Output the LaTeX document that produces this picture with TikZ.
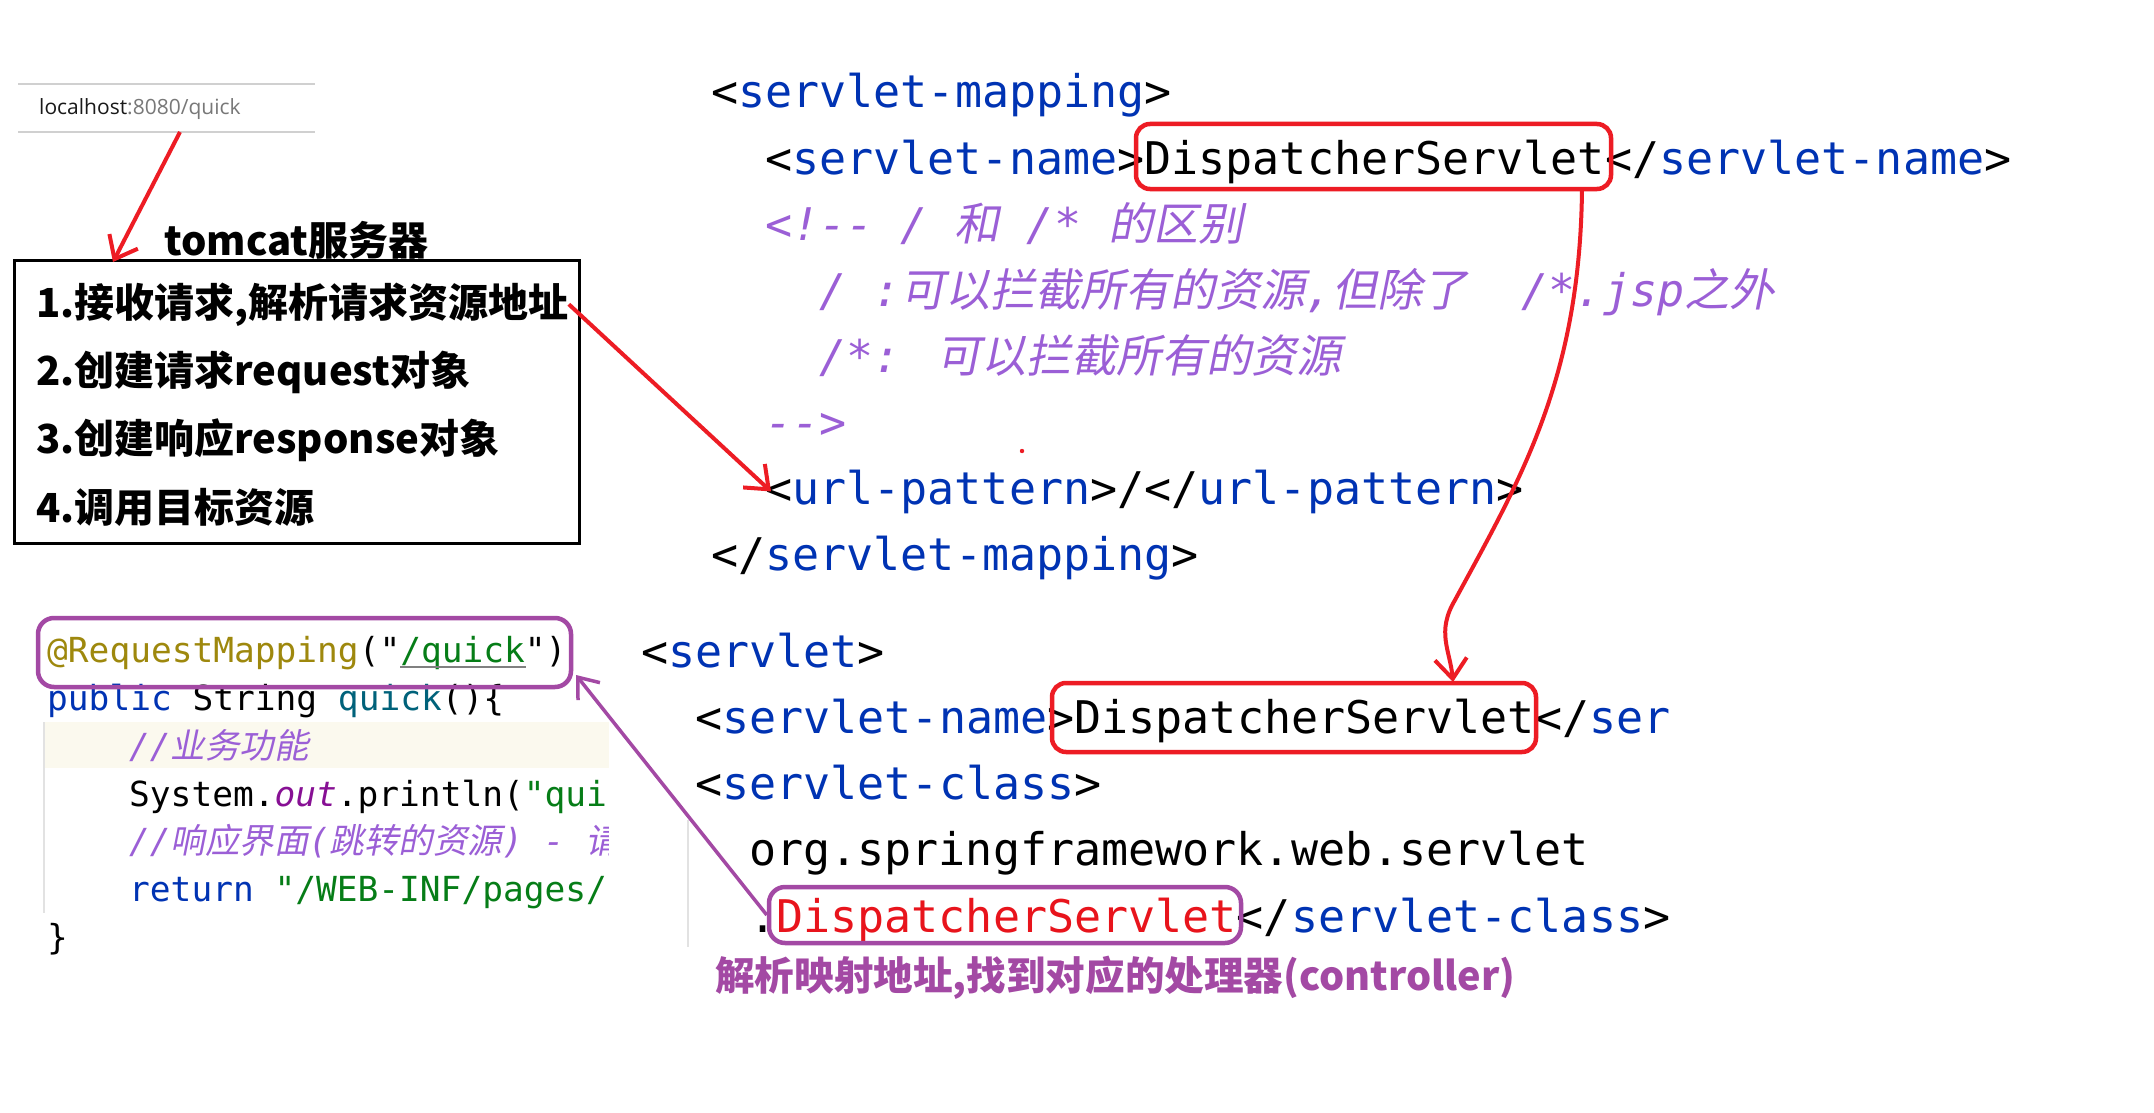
\documentclass[tikz,border=0pt]{standalone}
\usepackage{fontspec}
\usetikzlibrary{arrows.meta}
\newfontfamily\monofnt{DejaVu Sans Mono}
\newfontfamily\cjk{Noto Sans CJK SC}
\newfontfamily\cjkit{Noto Sans CJK SC}[FakeSlant=0.2]
\newfontfamily\uifnt{Open Sans}
\definecolor{tagblue}{HTML}{0033B3}
\definecolor{cmt}{HTML}{9B5FD6}
\definecolor{dsred}{HTML}{E8141C}
\definecolor{paintred}{HTML}{ED1C24}
\definecolor{paintpurple}{HTML}{A349A4}
\definecolor{annot}{HTML}{9E880D}
\definecolor{strg}{HTML}{067D17}
\definecolor{meth}{HTML}{00627A}
\definecolor{fieldc}{HTML}{871094}
\definecolor{band}{HTML}{FBF9EE}
\definecolor{panelline}{HTML}{E2E2E2}
\definecolor{urlline}{HTML}{D0D0D0}
\definecolor{urlgrey}{HTML}{787878}
\newcommand\tg[1]{\textcolor{tagblue}{#1}}
\newcommand\zh[1]{{\cjk #1}}
\newcommand\zhi[1]{{\cjkit #1}}
\begin{document}
\begin{tikzpicture}[x=1pt,y=-1pt,
  xml/.style={anchor=base west, inner sep=0pt, font=\monofnt\fontsize{45}{45}\selectfont},
  cmtline/.style={xml, text=cmt, font=\monofnt\itshape\fontsize{45}{45}\selectfont},
  code/.style={anchor=base west, inner sep=0pt, font=\monofnt\fontsize{34.5}{34.5}\selectfont},
  boxtext/.style={anchor=base west, inner sep=0pt, font=\cjk\bfseries\fontsize{40}{40}\selectfont},
  redbox/.style={draw=paintred, line width=4.5pt, rounded corners=14pt, inner sep=0pt},
  purplebox/.style={draw=paintpurple, line width=4.5pt, rounded corners=16pt, inner sep=0pt},
  redarrow/.style={draw=paintred, line width=4pt, -{Straight Barb[length=20pt,width=32pt,line width=4pt]}},
  purplearrow/.style={draw=paintpurple, line width=3.5pt, -{Straight Barb[length=18pt,width=28pt,line width=3.5pt]}}
]
\useasboundingbox (0,0) rectangle (2154,1113);
\fill[white] (0,0) rectangle (2154,1113);

% URL bar
\draw[urlline, line width=2pt] (18,84) -- (315,84);
\draw[urlline, line width=2pt] (18,132) -- (315,132);
\node[anchor=base west, inner sep=0pt, font=\uifnt\fontsize{21}{21}\selectfont] (url) at (39,115)
  {\textcolor{black!90}{localhost}\textcolor{urlgrey}{:8080/quick}};

% tomcat box
\node[anchor=base west, inner sep=0pt, font=\cjk\bfseries\fontsize{40}{40}\selectfont] (tomcat) at (164,255) {tomcat服务器};
\node[draw=black, line width=3pt, minimum width=565pt, minimum height=283pt, inner sep=0pt] (tbox) at (296.5,401.5) {};
\node[boxtext] (l1) at (36,317) {1.接收请求,解析请求资源地址};
\node[boxtext] (l2) at (36,385) {2.创建请求request对象};
\node[boxtext] (l3) at (36,453) {3.创建响应response对象};
\node[boxtext] (l4) at (36,522) {4.调用目标资源};

% servlet-mapping block
\node[xml] (r1) at (711,108) {<\tg{servlet-mapping}>};
\node[xml] (r2) at (765,174) {<\tg{servlet-name}>DispatcherServlet</\tg{servlet-name}>};
\node[cmtline] (r3) at (765,240) {<!-{}- / \zhi{和} /* \zhi{的区别}};
\node[cmtline] (r4) at (819,306) {/ :\zhi{可以拦截所有的资源},\zhi{但除了}\ \ /*.jsp\zhi{之外}};
\node[cmtline] (r5) at (819,372) {/*: \zhi{可以拦截所有的资源}};
\node[cmtline] (r6) at (765,438) {-{}->};
\node[xml] (urlpat) at (765,504) {<\tg{url-pattern}>/</\tg{url-pattern}>};
\node[xml] (r8) at (711,570) {</\tg{servlet-mapping}>};
\node[redbox, minimum width=475pt, minimum height=65pt] (rb1) at (1373.5,156.5) {};
\fill[paintred] (1022,451) circle (2.2pt);

% servlet block
\draw[panelline, line width=2pt] (688,820) -- (688,947);
\node[xml] (b1) at (641,667) {<\tg{servlet}>};
\node[xml] (b2) at (695,733) {<\tg{servlet-name}>DispatcherServlet</\tg{ser}};
\node[xml] (b3) at (695,799) {<\tg{servlet-class}>};
\node[xml] (b4) at (749,865) {org.springframework.web.servlet};
\node[xml] (b5) at (749,932) {.\textcolor{dsred}{DispatcherServlet}</\tg{servlet-class}>};
\node[redbox, minimum width=484pt, minimum height=69pt] (rb2) at (1294,717.5) {};
\node[purplebox, minimum width=472pt, minimum height=56pt] (pb2) at (1005,915) {};
\node[anchor=base west, inner sep=0pt, text=paintpurple, font=\cjk\bfseries\fontsize{39.6}{39.6}\selectfont] (note) at (715,990) {解析映射地址,找到对应的处理器(controller)};

% Java code
\fill[band] (45,722) rectangle (609,768);
\draw[panelline, line width=2pt] (44,722) -- (44,913);
\begin{scope}
\clip (0,600) rectangle (608,1000);
\node[code] (c1) at (47,662) {\textcolor{annot}{@RequestMapping}("\textcolor{strg}{/quick}")};
\draw[black!50, line width=1.5pt] (400,667) -- (526,667);
\node[code] (c2) at (47,710) {\textcolor{tagblue}{public} String \textcolor{meth}{quick}()\{};
\node[code, text=cmt] (c3) at (129,758) {\itshape //\zhi{业务功能}};
\node[code] (c4) at (129,806) {System.\textcolor{fieldc}{\itshape out}.println(\textcolor{strg}{"qui}};
\node[code, text=cmt] (c5) at (129,853) {\itshape //\zhi{响应界面}(\zhi{跳转的资源}) - \zhi{请}};
\node[code] (c6) at (129,901) {\textcolor{tagblue}{return} \textcolor{strg}{"/WEB-INF/pages/}};
\node[code] (c7) at (47,949) {\}};
\end{scope}
\node[purplebox, minimum width=533pt, minimum height=69pt] (pb1) at (304.5,652.5) {};

% connectors
\coordinate (u1) at (180,132);
\coordinate (t1) at (113,262);
\draw[redarrow] (u1) -- (t1);
\draw[redarrow] (l1.east) -- ([xshift=6pt]urlpat.west);
\coordinate (cs) at (1582,189);
\coordinate (cm) at (1455,600);
\coordinate (ce) at (1453,682);
\draw[redarrow] (cs) .. controls (1580,380) and (1520,480) .. (cm) .. controls (1436,632) and (1450,650) .. (ce);
\coordinate (pt) at (576,675);
\draw[purplearrow] (pb2.west) -- (pt);
\end{tikzpicture}
\end{document}
